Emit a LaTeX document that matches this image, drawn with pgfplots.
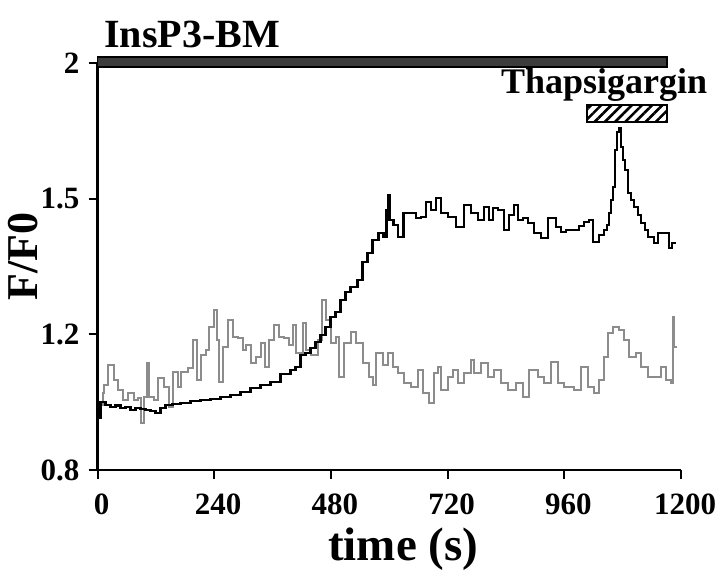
\documentclass[border=0pt]{standalone}
\usepackage{fontspec}
\setmainfont{Liberation Serif}
\usepackage{pgfplots}
\pgfplotsset{compat=1.18}
\usetikzlibrary{patterns.meta}
\definecolor{traceGray}{HTML}{8C8C8C}
\definecolor{barGray}{HTML}{3C3C3C}

% F/F0 traces, time in s
\pgfplotstableread{
t v
2.1 0.953
6.2 1.000
16.5 0.992
26.8 0.986
37.0 0.990
47.3 0.983
57.6 0.986
67.9 0.977
78.2 0.983
88.5 0.980
98.8 0.977
109.1 0.974
119.4 0.968
129.7 0.983
140.0 0.992
154.4 0.995
170.9 0.998
191.4 1.003
212.0 1.006
232.6 1.009
253.2 1.015
273.8 1.021
294.4 1.030
315.0 1.042
335.5 1.051
356.1 1.059
376.7 1.083
397.3 1.095
407.6 1.104
417.9 1.139
428.2 1.145
438.5 1.160
448.8 1.177
459.0 1.198
469.3 1.222
479.6 1.251
489.9 1.266
500.2 1.301
510.5 1.325
520.8 1.340
535.2 1.360
545.5 1.413
555.8 1.440
566.1 1.478
578.4 1.499
588.7 1.487
594.9 1.567
597.0 1.611
601.1 1.537
609.3 1.522
617.6 1.487
629.9 1.558
644.3 1.558
654.6 1.543
664.9 1.546
675.2 1.590
685.5 1.567
695.8 1.602
706.1 1.558
720.5 1.546
737.0 1.516
753.5 1.581
767.8 1.558
782.2 1.537
794.6 1.575
804.9 1.537
813.1 1.572
823.4 1.567
835.8 1.508
846.0 1.552
856.3 1.581
864.6 1.537
874.9 1.543
885.2 1.528
897.5 1.499
911.9 1.484
926.3 1.543
936.6 1.543
942.8 1.516
953.1 1.502
963.4 1.508
979.8 1.508
990.1 1.519
1000.4 1.531
1010.7 1.537
1018.9 1.472
1031.3 1.493
1041.6 1.508
1047.7 1.522
1051.9 1.558
1056.0 1.596
1060.1 1.634
1064.2 1.743
1068.4 1.797
1072.5 1.808
1076.6 1.752
1080.7 1.714
1084.8 1.685
1091.0 1.617
1097.2 1.596
1103.4 1.575
1111.6 1.552
1117.8 1.528
1126.0 1.508
1132.2 1.487
1144.5 1.469
1152.8 1.499
1165.1 1.499
1175.4 1.455
1181.6 1.469
1189.9 1.469
}\blacktrace

\pgfplotstableread{
t v
4.1 0.992
10.3 1.027
12.4 1.051
22.6 1.110
32.9 1.065
41.2 1.036
51.5 1.006
61.8 1.027
74.1 1.006
82.3 1.012
88.5 0.939
94.7 1.015
100.9 1.115
105.0 1.015
115.3 1.006
123.5 1.071
135.9 1.045
146.2 0.986
154.4 1.089
164.7 1.045
170.9 1.089
185.3 1.101
195.6 1.183
203.8 1.065
212.0 1.139
222.3 1.154
228.5 1.222
238.8 1.272
245.0 1.183
249.1 1.059
257.3 1.163
267.6 1.242
277.9 1.192
288.2 1.189
298.5 1.154
304.7 1.169
315.0 1.115
325.2 1.133
335.5 1.174
343.8 1.104
352.0 1.183
362.3 1.228
372.6 1.192
382.9 1.189
393.2 1.169
401.4 1.228
407.6 1.145
422.0 1.233
428.2 1.154
438.5 1.139
452.9 1.183
461.0 1.301
469.3 1.242
479.6 1.174
489.9 1.192
496.1 1.074
506.4 1.174
520.8 1.207
531.1 1.174
545.5 1.115
557.8 1.074
566.1 1.051
572.3 1.145
586.7 1.110
597.0 1.145
607.3 1.104
617.6 1.086
629.9 1.057
644.3 1.045
658.7 1.095
669.0 1.027
681.4 0.998
691.6 1.086
699.9 1.104
706.1 1.036
720.5 1.074
730.8 1.095
741.1 1.057
753.5 1.086
767.8 1.124
774.0 1.086
788.4 1.115
802.8 1.074
815.2 1.095
829.6 1.057
844.0 1.036
860.5 1.057
874.9 1.015
887.2 1.095
905.7 1.074
918.1 1.057
932.5 1.118
946.9 1.057
959.3 1.045
979.8 1.036
994.2 1.104
1008.7 1.045
1021.0 1.027
1031.3 1.065
1041.6 1.133
1049.8 1.204
1060.1 1.222
1072.5 1.213
1082.8 1.183
1093.1 1.133
1107.5 1.145
1117.8 1.104
1132.2 1.074
1144.5 1.074
1158.9 1.104
1169.2 1.065
1179.5 1.057
1183.6 1.251
1185.7 1.163
1189.9 1.160
}\graytrace

\begin{document}
\begin{tikzpicture}
\begin{axis}[
  scale only axis,
  width=291.75pt, height=203.5pt,
  xmin=0, xmax=1200, ymin=0.8, ymax=2,
  axis x line*=bottom, axis y line*=left,
  axis line style={line width=1.2pt, black},
  xtick={0,240,480,720,960,1200},
  xticklabels={0,240,480,720,960,1200},
  ytick={0.8,1.2,1.6,2},
  yticklabels={0.8,1.2,1.5,2},
  tick align=outside,
  major tick length=4.5pt,
  tick style={line width=1pt, black},
  ticklabel style={font=\bfseries\fontsize{15.5}{15.5}\selectfont},
  xticklabel style={yshift=-4pt, xshift=2pt},
  yticklabel style={xshift=-1pt},
  xlabel={time (s)},
  ylabel={F/F0},
  xlabel style={font=\bfseries\fontsize{23.5}{23.5}\selectfont, at={(rel axis cs:0.524,-0.194)}, anchor=center},
  ylabel style={font=\bfseries\fontsize{22}{22}\selectfont, at={(rel axis cs:-0.128,0.525)}, anchor=center},
  clip=false,
]
\addplot[traceGray, line width=1pt, const plot, line join=miter] table[x=t, y=v] {\graytrace};
\addplot[black, line width=1.3pt, const plot, line join=miter] table[x=t, y=v] {\blacktrace};

% treatment bars
\draw[black, line width=0.8pt, fill=barGray] (axis cs:0,1.988) rectangle (axis cs:1171,2.018);
\draw[black, line width=0.8pt, pattern={Lines[angle=45, distance=3.6pt, line width=1.3pt]}]
  (axis cs:1007,1.826) rectangle (axis cs:1171,1.876);
\node[anchor=base west, font=\bfseries\fontsize{20}{20}\selectfont, inner sep=0pt] at (axis cs:13,2.047) {InsP3-BM};
\node[anchor=base, font=\bfseries\fontsize{18}{18}\selectfont, inner sep=0pt] at (axis cs:1042,1.911) {Thapsigargin};

\coordinate (bbsw) at (rel axis cs:-0.1671,-0.2555);
\coordinate (bbne) at (rel axis cs:1.0668,1.1548);
\end{axis}
\pgfresetboundingbox
\path[use as bounding box] (bbsw) rectangle (bbne);
\end{tikzpicture}
\end{document}
